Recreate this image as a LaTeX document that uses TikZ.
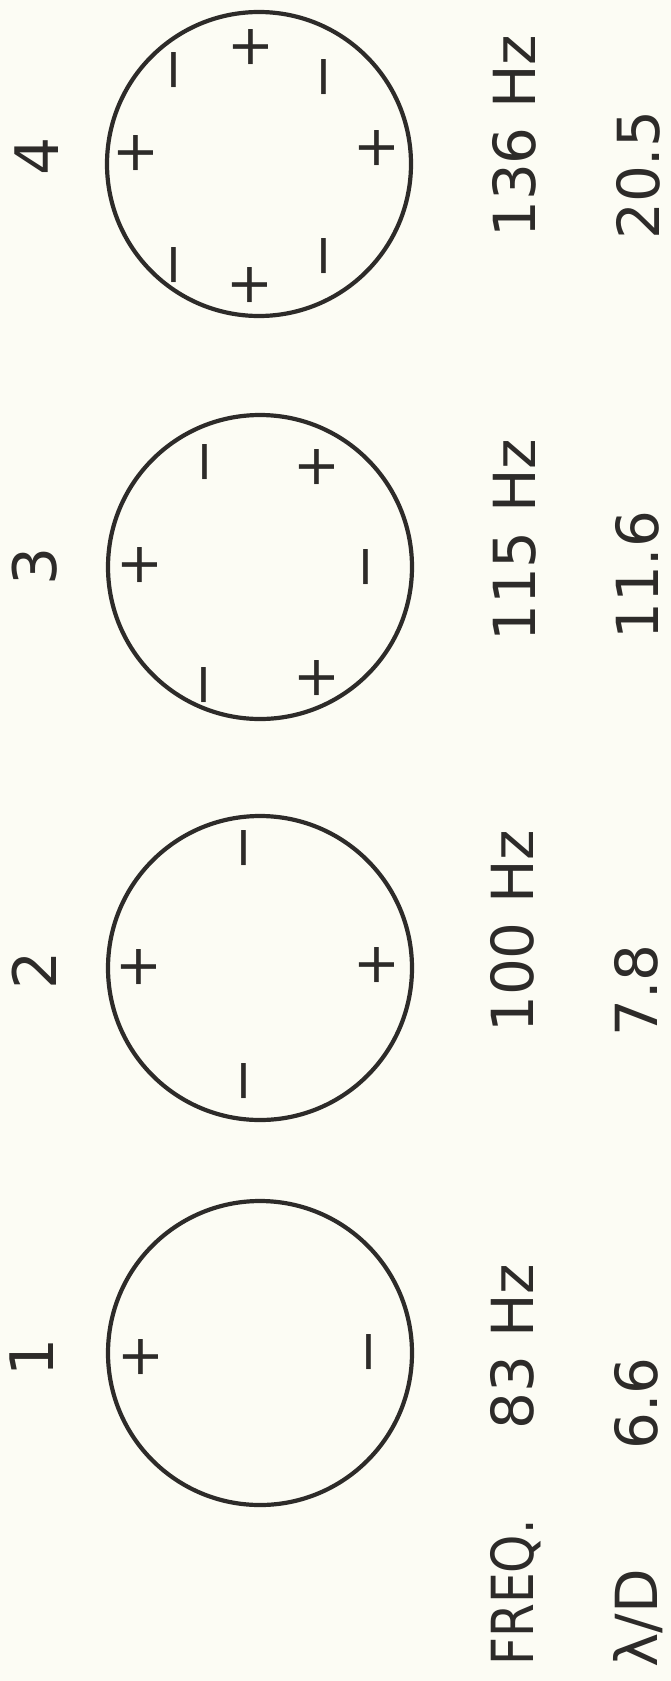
\documentclass[tikz,border=0pt]{standalone}
\usepackage{fontspec}
\setmainfont{DejaVu Sans}
\definecolor{ink}{RGB}{45,43,41}
\definecolor{paper}{RGB}{252,252,244}
\begin{document}
\begin{tikzpicture}[x=1pt,y=-1pt,
  lbl/.style={rotate=90,inner sep=0pt,anchor=base west,text=ink,font=\fontsize{58}{58}\selectfont},
  num/.style={rotate=90,inner sep=0pt,anchor=base,text=ink,font=\fontsize{60}{60}\selectfont},
  sgn/.style={rotate=90,inner sep=0pt,text=ink,font=\fontsize{56}{56}\selectfont},
  disc/.style={circle,draw=ink,line width=4.2pt,minimum size=304pt,inner sep=0pt}]
\fill[paper] (0,0) rectangle (671,1681);
\useasboundingbox (0,0) rectangle (671,1681);
% mode numbers
\node[num] (n4) at (58,156) {4};
\node[num] (n3) at (56,566) {3};
\node[num] (n2) at (56,970) {2};
\node[num] (n1) at (53,1357) {1};
% discs
\node[disc] (c4) at (259,164) {};
\node[disc] (c3) at (260,567) {};
\node[disc] (c2) at (260,968) {};
\node[disc] (c1) at (260,1353) {};
% signs disc 4
\node[sgn] (s41) at (251,47) {+};
\node[sgn] (s42) at (182,70) {−};
\node[sgn] (s43) at (332,77) {−};
\node[sgn] (s44) at (136,153) {+};
\node[sgn] (s45) at (377,148) {+};
\node[sgn] (s46) at (182,265) {−};
\node[sgn] (s47) at (332,256) {−};
\node[sgn] (s48) at (250,285) {+};
% signs disc 3
\node[sgn] (s31) at (213,462) {−};
\node[sgn] (s32) at (317,467) {+};
\node[sgn] (s33) at (140,565) {+};
\node[sgn] (s34) at (374,567) {−};
\node[sgn] (s35) at (212,685) {−};
\node[sgn] (s36) at (317,678) {+};
% signs disc 2
\node[sgn] (s21) at (252,848) {−};
\node[sgn] (s22) at (139,967) {+};
\node[sgn] (s23) at (377,965) {+};
\node[sgn] (s24) at (252,1081) {−};
% signs disc 1
\node[sgn] (s11) at (141,1357) {+};
\node[sgn] (s12) at (377,1352) {−};
% frequencies
\node[lbl] (f4) at (535,238) {136 Hz};
\node[lbl] (f3) at (535,642) {115 Hz};
\node[lbl] (f2) at (533,1033) {100 Hz};
\node[lbl] (f1) at (533,1430) {83 Hz};
\node[lbl,xscale=0.84] (fl) at (533,1666) {FREQ.};
% lambda/D
\node[lbl] (r4) at (659,240) {20.5};
\node[lbl] (r3) at (658,640) {11.6};
\node[lbl] (r2) at (657,1037) {7.8};
\node[lbl] (r1) at (657,1450) {6.6};
\node[lbl] (rl) at (657,1668) {λ/D};
\end{tikzpicture}
\end{document}
